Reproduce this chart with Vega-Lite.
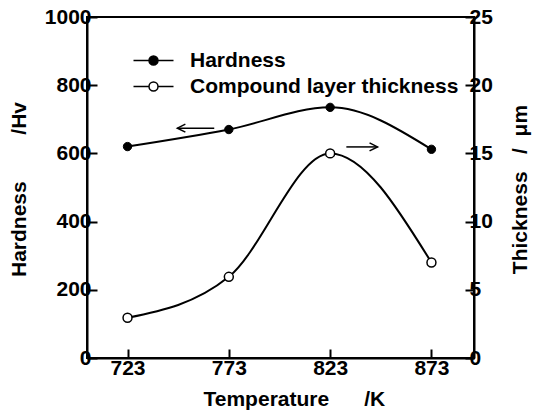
{
  "$schema": "https://vega.github.io/schema/vega-lite/v6.json",
  "width": 387,
  "height": 341,
  "autosize": "none",
  "padding": {"left": 87, "top": 17, "right": 61, "bottom": 57},
  "background": "white",
  "config": {
    "font": "Liberation Sans",
    "view": {"stroke": "black", "strokeWidth": 2},
    "axis": {
      "grid": false,
      "domainColor": "black",
      "domainWidth": 2,
      "tickColor": "black",
      "tickWidth": 2,
      "labelColor": "black",
      "titleColor": "black",
      "labelFont": "Liberation Sans",
      "titleFont": "Liberation Sans",
      "labelFontSize": 21,
      "labelFontWeight": "bold",
      "titleFontSize": 21,
      "titleFontWeight": "bold"
    }
  },
  "datasets": {
    "hardness": [
      {"T": 723, "Hv": 620, "series": "Hardness"},
      {"T": 773, "Hv": 670, "series": "Hardness"},
      {"T": 823, "Hv": 735, "series": "Hardness"},
      {"T": 873, "Hv": 612, "series": "Hardness"}
    ],
    "thickness": [
      {"T": 723, "um": 2.95, "series": "Compound layer thickness"},
      {"T": 773, "um": 5.95, "series": "Compound layer thickness"},
      {"T": 823, "um": 15.0, "series": "Compound layer thickness"},
      {"T": 873, "um": 7.0, "series": "Compound layer thickness"}
    ],
    "arrows": [
      {"from": 765.8, "to": 747.6, "Hv": 674, "dir": "left"},
      {"from": 831.0, "to": 846.4, "Hv": 619, "dir": "right"}
    ]
  },
  "layer": [
    {
      "layer": [
        {
          "data": {"name": "hardness"},
          "mark": {"type": "line", "interpolate": "monotone", "color": "black", "strokeWidth": 2},
          "encoding": {
            "x": {"field": "T", "type": "quantitative", "scale": {"domain": [703, 894], "nice": false, "zero": false},
              "axis": {"values": [723, 773, 823, 873], "tickSize": -9, "labelPadding": 8, "labelFontWeight": "bold", "title": "Temperature\u00a0\u00a0\u00a0\u00a0\u00a0\u00a0/K", "titleAnchor": "start", "titleAlign": "left", "titleX": 116, "titleY": 47, "titleBaseline": "alphabetic"}},
            "y": {"field": "Hv", "type": "quantitative", "scale": {"domain": [0, 1000], "nice": false},
              "axis": {"values": [0, 100, 200, 300, 400, 500, 600, 700, 800, 900, 1000], "labelExpr": "datum.value % 200 == 0 ? datum.label : ''", "format": "d", "tickSize": -10, "labelPadding": 6, "labelFontWeight": "bold", "title": "Hardness\u00a0\u00a0\u00a0\u00a0\u00a0\u00a0\u00a0\u00a0/Hv", "titleX": -62, "titleY": 172, "titleBaseline": "alphabetic", "titleAlign": "center", "titleAngle": -90}}
          }
        },
        {
          "data": {"name": "arrows"},
          "mark": {"type": "rule", "color": "black", "strokeWidth": 1.5},
          "encoding": {
            "x": {"field": "from", "type": "quantitative"},
            "x2": {"field": "to"},
            "y": {"field": "Hv", "type": "quantitative"}
          }
        },
        {
          "data": {"name": "arrows"},
          "mark": {"type": "point", "filled": false, "color": "black", "strokeWidth": 1.5, "size": 64, "opacity": 1},
          "encoding": {
            "x": {"field": "to", "type": "quantitative"},
            "y": {"field": "Hv", "type": "quantitative"},
            "shape": {"field": "dir", "type": "nominal", "scale": {"domain": ["left", "right"], "range": ["M2,-1L0,0L2,1", "M-2,-1L0,0L-2,1"]}, "legend": null}
          }
        },
        {
          "data": {"name": "hardness"},
          "mark": {"type": "point", "filled": true, "stroke": "black", "strokeWidth": 1, "size": 70, "opacity": 1},
          "encoding": {
            "x": {"field": "T", "type": "quantitative"},
            "y": {"field": "Hv", "type": "quantitative"},
            "fill": {"field": "series", "type": "nominal",
              "scale": {"domain": ["Hardness", "Compound layer thickness"], "range": ["black", "white"]},
              "legend": {
                "title": null, "orient": "none", "legendX": 56, "legendY": 33,
                "padding": 0, "offset": 0,
                "symbolType": "M-4,0L-0.9,0M0.9,0L4,0M-0.9,0A0.9,0.9,0,1,0,0.9,0A0.9,0.9,0,1,0,-0.9,0Z",
                "symbolSize": 100, "symbolStrokeColor": "black", "symbolStrokeWidth": 1.5, "symbolOpacity": 1,
                "labelFont": "Liberation Sans", "labelFontSize": 21, "labelFontWeight": "bold", "labelColor": "black", "labelOffset": 26, "rowPadding": 4, "labelLimit": 400
              }}
          }
        }
      ]
    },
    {
      "layer": [
        {
          "data": {"name": "thickness"},
          "mark": {"type": "line", "interpolate": "monotone", "color": "black", "strokeWidth": 2},
          "encoding": {
            "x": {"field": "T", "type": "quantitative"},
            "y": {"field": "um", "type": "quantitative", "scale": {"domain": [0, 25], "nice": false},
              "axis": {"orient": "right", "values": [0, 5, 10, 15, 20, 25], "tickSize": -9, "labelPadding": 4, "labelFontWeight": "bold", "title": "Thickness\u00a0\u00a0\u00a0/\u00a0\u00a0μm", "titleAngle": -90, "titleX": 52, "titleY": 172, "titleBaseline": "alphabetic", "titleAlign": "center"}}
          }
        },
        {
          "data": {"name": "thickness"},
          "mark": {"type": "point", "filled": true, "stroke": "black", "strokeWidth": 1.5, "size": 80, "opacity": 1},
          "encoding": {
            "x": {"field": "T", "type": "quantitative"},
            "y": {"field": "um", "type": "quantitative"},
            "fill": {"field": "series", "type": "nominal"}
          }
        }
      ]
    }
  ],
  "resolve": {"scale": {"y": "independent"}}
}
